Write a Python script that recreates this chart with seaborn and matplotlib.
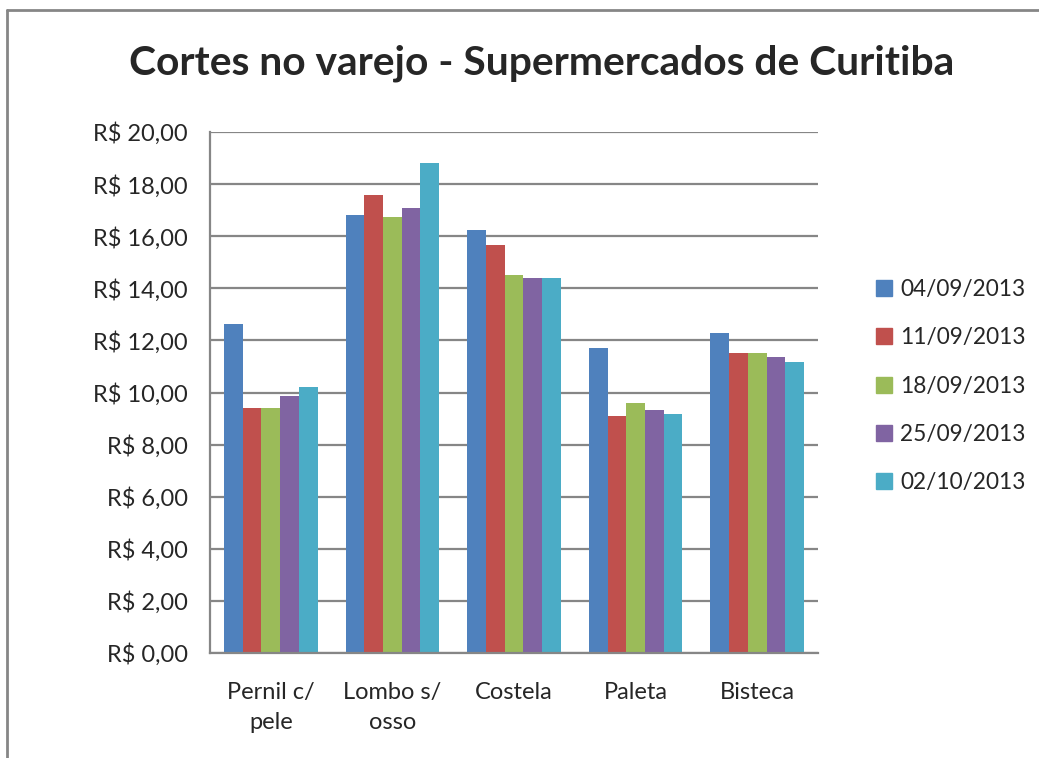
import matplotlib
matplotlib.use("Agg")
import matplotlib.pyplot as plt
import matplotlib.ticker as mticker
from matplotlib.lines import Line2D
import seaborn as sns
import pandas as pd

categories = ["Pernil c/\npele", "Lombo s/\nosso", "Costela", "Paleta", "Bisteca"]
dates = ["04/09/2013", "11/09/2013", "18/09/2013", "25/09/2013", "02/10/2013"]
s_0409 = [12.63, 16.80, 16.25, 11.71, 12.28]
s_1109 = [9.39, 17.58, 15.67, 9.11, 11.52]
s_1809 = [9.40, 16.72, 14.50, 9.61, 11.52]
s_2509 = [9.87, 17.07, 14.38, 9.33, 11.37]
s_0210 = [10.20, 18.80, 14.41, 9.17, 11.17]
colors = ["#4F81BD", "#C0504D", "#9BBB59", "#8064A2", "#4BACC6"]
title = "Cortes no varejo - Supermercados de Curitiba"

series = [s_0409, s_1109, s_1809, s_2509, s_0210]
rows = []
for d, vals in zip(dates, series):
    for c, v in zip(categories, vals):
        rows.append({"cat": c, "date": d, "price": v})
df = pd.DataFrame(rows)

sns.set_style("white")
plt.rcParams["font.family"] = ["Lato", "DejaVu Sans"]

fig = plt.figure(figsize=(10.39, 7.58), dpi=100)
ax = fig.add_axes([210/1039, 1-653/758, 608/1039, 521/758])

sns.barplot(data=df, x="cat", y="price", hue="date", order=categories,
            hue_order=dates, palette=colors, width=0.77, ax=ax,
            errorbar=None, saturation=1, edgecolor="none", legend=True)

grid_c = "#868686"
fs = 17
ax.set_ylim(0, 20)
ax.set_xlim(-0.5, 4.5)
ax.yaxis.set_major_locator(mticker.MultipleLocator(2))
ax.yaxis.set_major_formatter(mticker.FuncFormatter(lambda v, p: ("R$ %.2f" % v).replace(".", ",")))
ax.grid(axis="y", color=grid_c, linewidth=1.6)
ax.set_axisbelow(True)
for s in ["top", "right"]:
    ax.spines[s].set_visible(False)
for s in ["left", "bottom"]:
    ax.spines[s].set_color(grid_c)
    ax.spines[s].set_linewidth(1.6)

ax.set_xticks([i - 0.5 for i in range(6)])
ax.set_xticklabels([])
ax.set_xticks(range(5), minor=True)
ax.set_xticklabels(categories, minor=True, fontsize=fs, linespacing=1.5)
ax.tick_params(axis="x", which="major", length=6, width=1.5, color=grid_c, direction="out")
ax.tick_params(axis="x", which="minor", length=0, pad=21)
ax.tick_params(axis="y", length=6, width=1.5, color=grid_c, direction="out", labelsize=fs, pad=10)
ax.set_xlabel("")
ax.set_ylabel("")

handles = [Line2D([0], [0], marker="s", linestyle="none", markersize=11,
                  markerfacecolor=c, markeredgecolor=c) for c in colors]
if ax.get_legend() is not None:
    ax.get_legend().remove()
fig.legend(handles, dates, loc="center left", bbox_to_anchor=(855/1039, 1-386/758),
           frameon=False, fontsize=16.3, handlelength=0.8, handletextpad=0.3,
           labelspacing=1.2)

fig.text(542/1039, 1-63/758, title, ha="center", va="center",
         fontsize=29.3, fontweight="bold")

# outer chart border (top and left visible)
fig.add_artist(Line2D([7/1039, 1], [1-10/758, 1-10/758], transform=fig.transFigure, color=grid_c, linewidth=2))
fig.add_artist(Line2D([7/1039, 7/1039], [0, 1-10/758], transform=fig.transFigure, color=grid_c, linewidth=2))

fig.savefig("out.png", dpi=100)
